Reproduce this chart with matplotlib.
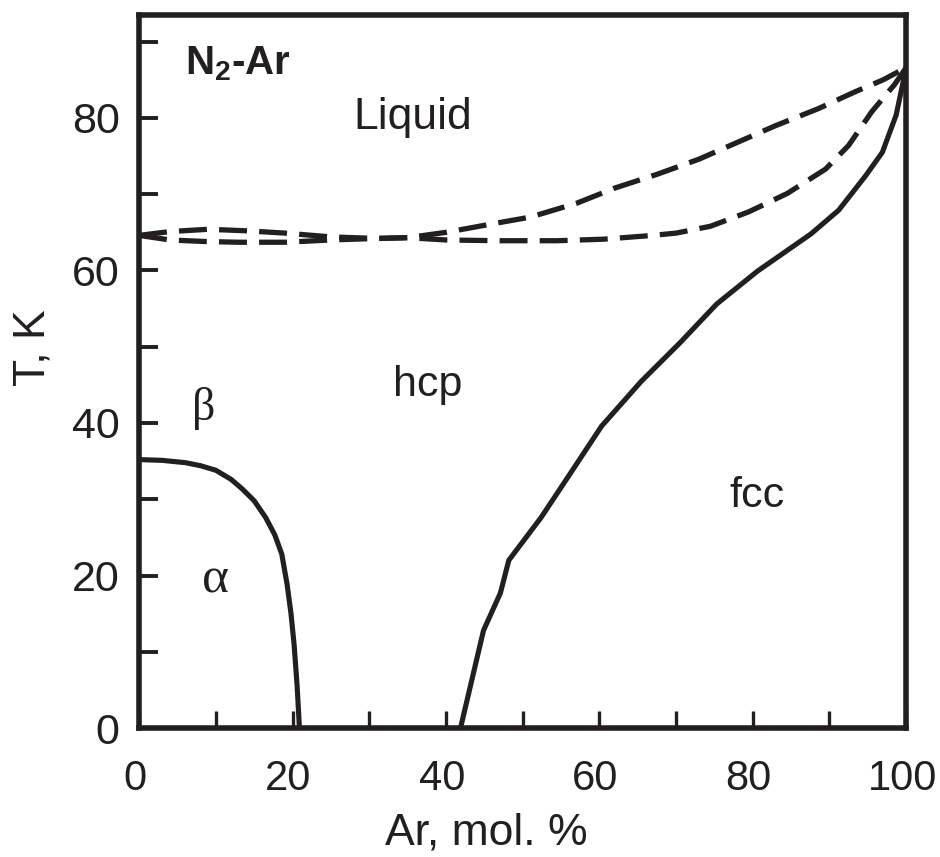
import matplotlib
matplotlib.use("Agg")
import matplotlib.pyplot as plt
import matplotlib.transforms as mtransforms
from matplotlib.ticker import MultipleLocator

plt.rcParams['font.family'] = ['Liberation Sans', 'DejaVu Sans']
plt.rcParams['mathtext.fontset'] = 'custom'
plt.rcParams['mathtext.rm'] = 'Liberation Sans'
plt.rcParams['mathtext.bf'] = 'Liberation Sans:bold'

INK = '#231f20'

# alpha/beta transition of solid N2
alpha_x = [0, 3, 6, 8, 10, 12, 13.5, 15, 16.5, 17.7, 18.6, 19.3, 19.8, 20.2, 20.6, 20.9]
alpha_t = [35.2, 35.1, 34.8, 34.4, 33.8, 32.6, 31.3, 29.8, 27.6, 25.3, 22.8, 18.8, 15.0, 11.0, 5.5, 0]

# hcp / fcc boundary
fcc_x = [41.9, 44.9, 47.1, 48.2, 52.4, 55.9, 60.3, 65.5, 70.5, 75.3, 80.6, 87.6, 91.2, 94.7, 96.9, 98.7, 100]
fcc_t = [0, 12.8, 17.7, 22.0, 27.6, 32.9, 39.6, 45.5, 50.5, 55.6, 59.9, 64.8, 67.9, 72.4, 75.5, 80.4, 86.6]

# liquidus and solidus
liq_x = [0, 4, 9, 14, 19, 25, 31, 35, 40, 46, 51, 57, 62, 67.5, 73, 78, 83, 88.5, 93.5, 97, 100]
liq_t = [64.6, 65.1, 65.4, 65.2, 64.9, 64.4, 64.2, 64.3, 65.0, 66.1, 67.0, 68.8, 70.8, 72.6,
         74.6, 76.8, 79.0, 81.2, 83.5, 85.0, 86.6]
sol_x = [0, 4, 8.5, 13, 19, 25, 31, 35, 40, 47, 54.5, 60.5, 67, 70, 74.5, 79.5, 84.5, 89.5,
         92.5, 95.5, 98.5, 100]
sol_t = [64.6, 64.0, 63.8, 63.7, 63.7, 64.0, 64.2, 64.3, 64.0, 63.9, 63.9, 64.1, 64.6, 64.9,
         65.8, 67.7, 70.1, 73.3, 76.4, 80.8, 84.4, 86.6]

fig = plt.figure(figsize=(9.4, 8.57), dpi=100)
ax = fig.add_axes([0.148, 0.1505, 0.816, 0.832])

ax.plot(alpha_x, alpha_t, color=INK, lw=3.7, solid_joinstyle='round')
ax.plot(fcc_x, fcc_t, color=INK, lw=3.7, solid_joinstyle='round')
ax.plot(liq_x, liq_t, color=INK, lw=3.8, dashes=(5.3, 2.3))
ax.plot(sol_x, sol_t, color=INK, lw=3.8, dashes=(5.3, 2.3))

ax.set_xlim(0, 100)
ax.set_ylim(0, 93.5)
ax.xaxis.set_major_locator(MultipleLocator(20))
ax.xaxis.set_minor_locator(MultipleLocator(10))
ax.yaxis.set_major_locator(MultipleLocator(20))
ax.yaxis.set_minor_locator(MultipleLocator(10))

for s in ax.spines.values():
    s.set_linewidth(4.0)
    s.set_color(INK)

ax.tick_params(axis='x', which='both', direction='in', length=12, width=2.4,
               color=INK, top=False, labelsize=30, pad=22, labelcolor=INK)
ax.tick_params(axis='y', which='both', direction='in', length=14, width=2.8,
               color=INK, right=False, labelsize=31, pad=14, labelcolor=INK)

# nudge the x tick labels slightly left so "100" stays inside the figure
shift = mtransforms.ScaledTranslation(-0.04, 0, fig.dpi_scale_trans)
for lab in ax.get_xticklabels():
    lab.set_transform(lab.get_transform() + shift)

ax.set_xlabel('Ar, mol. %', fontsize=32, color=INK)
ax.xaxis.label.set_verticalalignment('baseline')
ax.xaxis.set_label_coords(0.452, -0.164)
ax.set_ylabel('T, K', fontsize=32, color=INK)
ax.yaxis.set_label_coords(-0.112, 0.534)

ax.text(6.0, 85.7, r'$\mathbf{N_2}$-Ar', fontsize=29, fontweight='bold', va='baseline', color=INK)
ax.text(35.7, 78.5, 'Liquid', fontsize=32, ha='center', va='baseline', color=INK)
ax.text(37.6, 43.6, 'hcp', fontsize=31, ha='center', va='baseline', color=INK)
ax.text(80.6, 29.0, 'fcc', fontsize=31, ha='center', va='baseline', color=INK)
ax.text(8.4, 40.4, 'β', fontsize=33, ha='center', va='baseline', family='Liberation Serif', color=INK)
ax.text(10.0, 17.8, 'α', fontsize=37, ha='center', va='baseline', family='Liberation Serif', color=INK)

fig.savefig('out.png', dpi=100)
